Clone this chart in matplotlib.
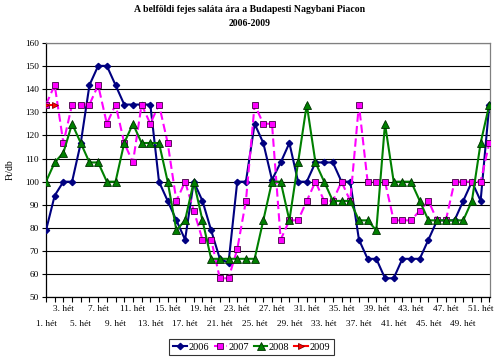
import numpy as np
import matplotlib
matplotlib.use("Agg")
import matplotlib.pyplot as plt
from matplotlib.ticker import FixedLocator

weeks = list(range(1, 53))
nan = np.nan
s2006 = [79, 94, 100, 100, 116.7, 141.7, 150, 150, 141.7, 133.3, 133.3, 133.3, 133.3,
         100, 91.7, 83.3, 75, 100, 91.7, 79, 66.7, 65, 100, 100, 125, 116.7,
         100.8, 108.3, 116.7, 100, 100, 108.3, 108.3, 108.3, 100, 100, 75, 66.7, 66.7,
         58.3, 58.3, 66.7, 66.7, 66.7, 75, 83.3, 83.3, 83.3, 91.7, 100, 91.7, 133.3]
s2007 = [133.3, 141.7, 116.7, 133.3, 133.3, 133.3, 141.7, 125, 133.3, 116.7, 108.3, 133.3, 125,
         133.3, 116.7, 91.7, 100, 87.5, 75, 75, 58.3, 58.3, 70.8, 91.7, 133.3, 125,
         125, 75, 83.3, 83.3, 91.7, 100, 91.7, 91.7, 100, 91.7, 133.3, 100, 100,
         100, 83.3, 83.3, 83.3, 87.5, 91.7, 83.3, 83.3, 100, 100, 100, 100, 116.7]
s2008 = [100, 108.3, 112.5, 125, 116.7, 108.3, 108.3, 100, 100, 116.7, 125, 116.7, 116.7,
         116.7, 100, 79, 83.3, 100, 83.3, 66.7, 66.7, 66.7, 66.7, 66.7, 66.7, 83.3,
         100, 100, 83.3, 108.3, 133.3, 108.3, 100, 91.7, 91.7, 91.7, 83.3, 83.3, 79,
         125, 100, 100, 100, 91.7, 83.3, 83.3, 83.3, 83.3, 83.3, 91.7, 116.7, 133.3]
s2009 = [133.3, 133.3] + [nan] * 50

series_names = ["2006", "2007", "2008", "2009"]
title_line1 = "A belföldi fejes saláta ára a Budapesti Nagybani Piacon"
title_line2 = "2006-2009"
y_label = "Ft/db"
week_labels = [f"{w}. hét" for w in weeks]

serif = ["Liberation Serif", "DejaVu Serif"]
plt.rcParams['font.family'] = serif

fig = plt.figure(figsize=(5.0, 3.64), dpi=100)
ax = fig.add_axes([0.092, 0.1827, 0.888, 0.7])

ax.plot(weeks, s2006, color="#000080", lw=1.5, marker="D", ms=3.2,
        mfc="#000080", mec="#000080", label=series_names[0], zorder=3)
ax.plot(weeks, s2007, color="#FF00FF", lw=1.5, ls=(0, (4, 2)), marker="s", ms=5,
        mfc="#FF00FF", mec="#400040", mew=0.6, label=series_names[1], zorder=4)
ax.plot(weeks, s2008, color="#008000", lw=1.5, marker="^", ms=5.5,
        mfc="#008000", mec="#003000", mew=0.6, label=series_names[2], zorder=5)
ax.plot(weeks, s2009, color="#FF0000", lw=1.5, marker=">", ms=5,
        mfc="#FF0000", mec="#800000", mew=0.6, label=series_names[3], zorder=6)

ax.set_xlim(1, 52.08)
ax.set_ylim(50, 160)
ax.set_yticks(np.arange(50, 161, 10))
ax.yaxis.grid(True, color="black", lw=0.8)
ax.set_axisbelow(True)
ax.tick_params(axis="y", direction="out", length=3, width=0.8, labelsize=6.7, pad=2)

# x ticks: every week, labels in two staggered rows
ax.set_xticks(weeks)
top_labels = [week_labels[i] if (w - 3) % 4 == 0 else "" for i, w in enumerate(weeks)]
ax.set_xticklabels(top_labels)
ax.tick_params(axis="x", which="major", direction="out", length=3.5, width=0.8,
               labelsize=6.7, pad=2)
bottom_weeks = [w for w in weeks if (w - 1) % 4 == 0]
ax.xaxis.remove_overlapping_locs = False
ax.xaxis.set_minor_locator(FixedLocator(bottom_weeks))
ax.set_xticklabels([week_labels[w - 1] for w in bottom_weeks], minor=True)
ax.tick_params(axis="x", which="minor", length=0, labelsize=6.7, pad=16)

for sp in ["left", "bottom"]:
    ax.spines[sp].set_color("black")
    ax.spines[sp].set_linewidth(0.9)
for sp in ["top", "right"]:
    ax.spines[sp].set_color("#808080")
    ax.spines[sp].set_linewidth(0.9)

ax.set_ylabel(y_label, fontsize=7)
ax.yaxis.set_label_coords(-0.07, 0.5)

fig.text(0.5, 1 - 10 / 364, title_line1, ha="center", va="center",
         fontsize=7, fontweight="bold")
fig.text(0.5, 1 - 24 / 364, title_line2, ha="center", va="center",
         fontsize=7, fontweight="bold")

leg = fig.legend(loc="center", bbox_to_anchor=(0.503, 1 - 347 / 364), ncol=4,
                 fontsize=7.5, frameon=True, fancybox=False, edgecolor="black",
                 handlelength=1.3, handletextpad=0.15, columnspacing=0.45,
                 borderpad=0.35)
leg.get_frame().set_linewidth(0.8)

fig.savefig("out.png", dpi=100)
